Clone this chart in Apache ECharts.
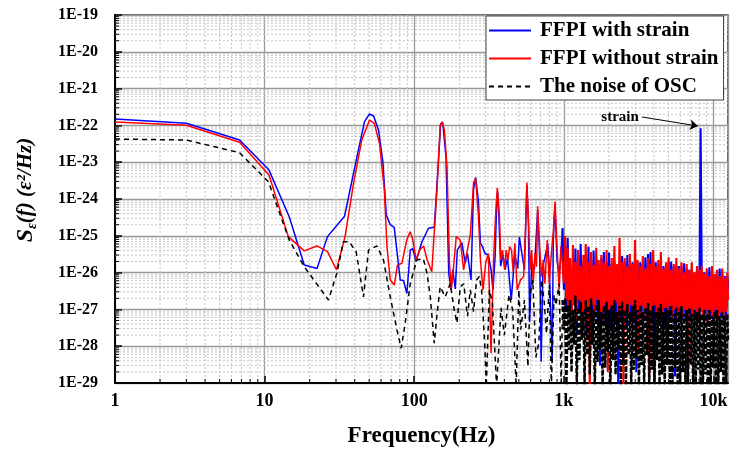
<!DOCTYPE html>
<html>
<head>
<meta charset="utf-8">
<script src="https://cdn.jsdelivr.net/npm/echarts@6/dist/echarts.min.js"></script>
<style>html,body{margin:0;padding:0;background:#fff;}#c{width:730px;height:449px;}</style>
</head>
<body>
<div id="c"></div>
<script>
// ---------- data ----------
const seriesNames = ['FFPI with strain', 'FFPI without strain', 'The noise of OSC'];
const xTickLabels = ['1', '10', '100', '1k', '10k'];   // decades 10^0 .. 10^4

// low-frequency part, [frequency Hz, S(f)]
const blueLow = [
  [1, 1.49e-22], [3.0, 1.14e-22], [6.8, 4.0e-23], [10.7, 6.1e-24], [14.6, 3.3e-25], [18.4, 1.6e-26],
  [22.4, 1.3e-26], [26.3, 9.5e-26], [34.2, 3.4e-25], [41.4, 1.4e-23], [46.5, 1.26e-22], [50.2, 2.04e-22],
  [53.5, 1.8e-22], [57.7, 7.5e-23], [61.7, 1.03e-23], [65.0, 3.7e-25], [69.1, 2.0e-25], [73.5, 1.7e-25],
  [80.6, 6.3e-27], [84.8, 6.1e-27], [89.3, 2.7e-27], [94.0, 4.1e-26], [97.7, 4.5e-26], [102.9, 2.0e-26],
  [112.5, 6.9e-26], [124.6, 1.6e-25], [136, 1.7e-25], [143, 4.0e-24], [150, 1.1e-22], [155, 1.2e-22],
  [163, 1.4e-23], [170, 9.6e-27], [176, 3.6e-27], [181, 1.2e-26], [188, 3.6e-27], [194, 4.1e-26],
  [208, 6.5e-26], [219, 1.8e-26], [227, 3.3e-26], [239.5, 6.3e-27], [249, 1.8e-24], [257, 3.9e-24],
  [268, 9.4e-25], [277, 6.3e-26], [286, 5.0e-26], [297, 3.3e-26], [313, 3.0e-26], [326, 1.2e-26],
  [336, 3.4e-27], [347, 2.7e-26], [355, 6e-25], [361, 1.6e-24], [368, 3e-25], [378, 1.5e-26],
  [392, 3.0e-26], [405, 1.2e-26], [420, 2.5e-26], [445, 1.8e-27], [470, 3.0e-26], [492, 1.3e-26],
  [504, 9.3e-26], [520, 4.1e-26], [545, 1.2e-26], [566, 2.4e-24], [580, 2.0e-25], [590, 4.5e-28],
  [610, 2.0e-26], [635, 1.2e-26], [668, 5e-25], [690, 2.2e-26], [705, 3.8e-29], [725, 1.5e-26],
  [780, 6e-26], [800, 1.2e-26], [835, 3.8e-29], [850, 8e-26], [872, 7e-25], [900, 2.2e-26],
  [930, 8e-27], [955, 3e-26], [980, 1.6e-25]
];
const redLow = [
  [1, 1.24e-22], [3.0, 1.01e-22], [6.8, 3.5e-23], [10.7, 4.5e-24], [14.4, 9.5e-26], [18.4, 3.9e-26],
  [22.4, 5.3e-26], [26.3, 3.7e-26], [30.2, 1.2e-26], [34.5, 9.5e-26], [39.3, 2.7e-24], [44.6, 4.0e-23],
  [50.2, 1.40e-22], [54.1, 1.14e-22], [58.6, 3.2e-23], [63.1, 1.8e-24], [65.7, 5.1e-26], [69.1, 6.3e-27],
  [73.5, 4.6e-27], [77.2, 1.6e-26], [82.7, 1.8e-26], [89.3, 8.0e-26], [94.0, 1.3e-25], [97.7, 8.0e-26],
  [102.9, 2.2e-26], [108.5, 4.1e-26], [115.5, 5.3e-26], [122, 2.2e-26], [131, 1.06e-26], [134.6, 1.18e-26],
  [141.9, 1.8e-24], [149, 9.3e-23], [153.5, 1.26e-22], [159, 7.5e-23], [165.5, 7.5e-24], [172, 1.8e-26],
  [176.7, 3.4e-27], [180.8, 7.9e-27], [190.8, 9.5e-26], [203, 7.7e-26], [213.8, 1.18e-26], [222, 2.7e-26],
  [237, 1.05e-25], [249, 2.7e-24], [257, 3.65e-24], [268, 4e-25], [277, 2.2e-26], [288, 3.4e-27],
  [300, 1.8e-26], [313, 3.3e-26], [326, 6.4e-29], [339, 2.2e-26], [349, 3.3e-25], [359, 2.0e-24],
  [371, 3.3e-25], [379, 2.2e-26], [389, 4.1e-26], [402, 1.2e-26], [412, 4.1e-26], [423, 2.2e-26],
  [434, 5.1e-26], [447, 4.1e-26], [458, 1.06e-26], [470, 6.3e-26], [488, 3.4e-27], [513, 6.3e-27],
  [538, 7.9e-27], [553, 1.2e-25], [566, 2.8e-24], [582, 1.8e-25], [595, 1.2e-26], [609, 4.1e-26],
  [624, 5.0e-27], [640, 3.3e-26], [657, 1.45e-26], [668, 6.3e-25], [690, 4.1e-26], [710, 7.9e-27],
  [728, 2.2e-26], [747, 5e-27], [774, 7.7e-26], [798, 5e-27], [828, 4.1e-26], [849, 1.2e-25],
  [872, 8.5e-25], [902, 4.1e-26], [930, 3.4e-27], [955, 5.1e-26], [980, 1.45e-26]
];
const noiseLow = [
  [1, 4.27e-23], [3.0, 4.0e-23], [6.8, 1.81e-23], [10.6, 2.95e-24], [14.6, 7.7e-26], [18.4, 1.45e-26],
  [26.7, 1.8e-27], [30.4, 9.6e-27], [33.6, 6.9e-26], [36.7, 6.9e-26], [40.9, 3.7e-26], [45.8, 2.2e-27],
  [49.5, 4.1e-26], [56.3, 5.3e-26], [62.3, 2.2e-26], [69.1, 2.2e-27], [76.6, 2.8e-28], [81.8, 8.8e-29],
  [87.1, 4.3e-28], [94, 5.0e-27], [104, 2.2e-26], [115, 2.4e-26], [121.6, 9.6e-27], [128, 2.2e-27],
  [136, 1.2e-28], [143, 9.7e-28], [149, 4.1e-27], [161, 2.2e-27], [174, 5.0e-27], [185, 9.7e-28],
  [193, 4.3e-28], [203, 4.1e-27], [214, 5.0e-27], [227, 6.5e-28], [237, 3.4e-27], [249, 8.7e-28],
  [261, 6.3e-27], [272, 7.9e-27], [282, 3.4e-27], [297, 7.9e-29], [303, 8e-30], [318, 3.4e-27],
  [333, 1.5e-27], [355, 8e-30], [380, 1.1e-27], [400, 2.0e-28], [430, 2.5e-27], [455, 9.6e-28],
  [480, 8e-30], [500, 3.4e-27], [515, 2.8e-28], [545, 1.8e-27], [575, 2.8e-29], [595, 2.5e-27],
  [620, 6.3e-27], [650, 5e-29], [680, 1.2e-28], [710, 6.3e-27], [740, 1.5e-27], [765, 2.2e-28],
  [800, 4.6e-27], [825, 8e-30], [860, 2.5e-27], [885, 1.3e-27], [930, 5.0e-27], [960, 8e-30],
  [980, 1.8e-27]
];

// dense high-frequency part: shared frequencies and the three value lists
const freqHigh = [
  1000,1020,1040,1060,1080,1100,1125,1150,1170,1195,
  1220,1245,1270,1295,1320,1350,1375,1400,1430,1460,
  1490,1520,1550,1580,1610,1645,1680,1710,1745,1780,
  1815,1850,1890,1930,1965,2005,2045,2090,2130,2175,
  2215,2260,2310,2355,2400,2450,2500,2550,2600,2655,
  2710,2760,2820,2875,2930,2990,3050,3110,3175,3240,
  3305,3370,3440,3505,3575,3650,3720,3795,3870,3950,
  4030,4110,4190,4275,4360,4450,4540,4630,4720,4815,
  4910,5010,5110,5215,5320,5425,5535,5645,5760,5875,
  5990,6110,6235,6360,6490,6620,6750,6885,7025,7165,
  7310,7455,7605,7760,7915,8070,8200,8340,8500,8670,
  8840,9020,9200,9385,9570,9760,9955,10150,10350,10560,
  10770,10990,11210,11430,11660,11890,12130,12370,12500
];
const blueHigh = [
  3.4e-27,5.6e-26,9.6e-28,8.7e-26,1.3e-27,1.6e-26,5.2e-28,2.5e-26,1.8e-27,4.5e-26,
  2.0e-28,3.0e-26,9.6e-28,6.0e-26,2.8e-28,1.9e-26,7.0e-28,2.8e-26,1.5e-28,5.0e-26,
  5.2e-28,2.2e-26,1.1e-28,4.0e-26,8.5e-28,2.5e-26,4.5e-28,1.7e-26,3.0e-29,2.5e-26,
  9.6e-28,3.6e-26,3.8e-28,1.9e-26,8.5e-28,3.5e-26,2.8e-28,1.7e-26,7.0e-28,1.9e-26,
  4.5e-28,1.5e-26,8e-30,1.9e-26,5.8e-28,2.8e-26,8.5e-28,1.9e-26,2.8e-28,3.0e-26,
  7.0e-28,1.6e-26,4.5e-28,1.9e-26,8.5e-28,1.6e-26,2.0e-29,1.9e-26,9.6e-28,1.9e-26,
  5.2e-28,1.7e-26,8.5e-28,2.6e-26,5.8e-28,3.2e-26,8.5e-28,3.6e-26,4.5e-28,2.2e-26,
  8e-30,1.9e-26,7.0e-28,1.7e-26,4.5e-28,1.9e-26,9.6e-28,1.5e-26,3.8e-28,1.5e-26,
  8.5e-28,1.9e-26,5.2e-28,2.0e-26,8.5e-28,1.5e-26,1.5e-29,1.5e-26,8.0e-28,1.5e-26,
  4.5e-28,1.5e-26,7.0e-28,1.8e-26,5.2e-28,1.3e-26,8.5e-28,1.2e-26,4.5e-28,1.3e-26,
  7.5e-28,1.0e-26,5.2e-28,1.2e-26,7.0e-28,1.0e-26,8.3e-23,1.2e-26,5.2e-28,1.0e-26,
  7.5e-28,1.0e-26,5.2e-28,1.4e-26,6.6e-28,1.0e-26,4.5e-28,9.2e-27,7.5e-28,9.2e-27,
  5.2e-28,1.3e-26,6.6e-28,9.2e-27,5.2e-28,8.1e-27,6.6e-28,8.1e-27,3.4e-27
];
const redHigh = [
  5.2e-27,9.9e-26,1.8e-27,4.7e-26,7.0e-28,2.5e-26,2.8e-28,5.6e-26,1.3e-27,1.9e-26,
  5.2e-28,4.1e-26,1.8e-27,1.5e-26,1.5e-28,3.0e-26,9.6e-28,6.0e-26,3.8e-28,1.9e-26,
  8e-30,3.6e-26,1.3e-27,1.6e-26,5.8e-28,4.7e-26,1.8e-27,2.2e-26,8.5e-28,3.0e-26,
  3.8e-28,1.9e-26,1.3e-27,4.1e-26,2.0e-29,1.5e-26,1.1e-27,2.5e-26,5.2e-28,5.3e-26,
  1.5e-27,1.7e-26,5.8e-28,8.7e-26,8.5e-28,1.9e-26,8e-30,2.5e-26,1.1e-27,1.5e-26,
  6.6e-28,3.2e-26,1.3e-27,1.7e-26,5.2e-28,7.7e-26,9.6e-28,2.2e-26,7.9e-29,1.5e-26,
  1.2e-27,2.8e-26,5.8e-28,1.3e-26,1.1e-27,2.5e-26,1.5e-29,1.7e-26,8.5e-28,4.1e-26,
  1.3e-27,1.5e-26,5.8e-28,2.2e-26,9.6e-28,3.6e-26,4.5e-28,1.3e-26,1.1e-27,1.9e-26,
  7.0e-28,2.6e-26,1.2e-27,1.2e-26,5.2e-28,1.7e-26,9.6e-28,2.5e-26,6.6e-28,1.3e-26,
  1.1e-27,1.9e-26,5.8e-28,1.0e-26,9.6e-28,1.7e-26,2.0e-29,1.2e-26,1.0e-27,1.9e-26,
  6.6e-28,1.0e-26,8.5e-28,1.5e-26,5.2e-28,1.2e-26,8.5e-28,1.5e-26,5.8e-28,9.2e-27,
  9.6e-28,1.3e-26,4.5e-28,8.1e-27,8.5e-28,1.5e-26,5.8e-28,9.2e-27,9.6e-28,1.2e-26,
  5.2e-28,8.1e-27,8.0e-28,1.3e-26,5.8e-28,7.1e-27,8.5e-28,1.0e-26,1.8e-27
];
const noiseHigh = [
  2.8e-28,2.0e-27,8e-30,1.3e-27,7.9e-29,1.8e-27,2.0e-29,9.6e-28,1.1e-28,2.4e-27,
  8e-30,1.1e-27,4.2e-29,1.6e-27,1.5e-28,8.5e-28,8e-30,1.8e-27,5.8e-29,1.24e-27,
  1.7e-29,2.0e-27,1.1e-28,9.6e-28,8e-30,1.4e-27,3.7e-29,1.8e-27,7.9e-29,8.5e-28,
  8e-30,1.24e-27,2.6e-29,1.6e-27,7.0e-29,9.6e-28,8e-30,1.3e-27,4.2e-29,1.8e-27,
  1.7e-29,8.5e-28,7.9e-29,1.24e-27,8e-30,1.6e-27,3.1e-29,9.6e-28,8e-30,1.4e-27,
  5.8e-29,8.5e-28,8e-30,1.24e-27,2.3e-29,1.8e-27,4.8e-29,9.6e-28,8e-30,1.3e-27,
  3.1e-29,8.5e-28,8e-30,1.1e-27,5.8e-29,1.5e-27,8e-30,9.6e-28,2.3e-29,1.24e-27,
  8e-30,8.5e-28,4.2e-29,1.1e-27,8e-30,1.4e-27,1.7e-29,8.5e-28,8e-30,1.1e-27,
  3.1e-29,9.6e-28,8e-30,1.24e-27,8e-30,7.5e-28,2.6e-29,1.1e-27,8e-30,8.5e-28,
  8e-30,1.24e-27,2.0e-29,7.5e-28,8e-30,9.6e-28,8e-30,1.1e-27,3.1e-29,7.5e-28,
  8e-30,9.6e-28,8e-30,8.5e-28,2.3e-29,1.1e-27,8e-30,7.5e-28,8e-30,9.6e-28,
  1.7e-29,7.5e-28,8e-30,9.6e-28,8e-30,6.6e-28,2.6e-29,8.5e-28,8e-30,9.6e-28,
  8e-30,6.6e-28,2.0e-29,8.5e-28,8e-30,6.6e-28,8e-30,7.5e-28,1.5e-28
];

// annotation ("strain" label and arrow), in data units [Hz, S]
const strainLabel = [2374, 1.65e-22];
const strainArrow = [[3330, 1.69e-22], [7870, 9.6e-23]];

// ---------- chart (log-log: the value axes carry log10 of the data) ----------
const X_MIN = 1, X_MAX = 12500, Y_MIN = 1e-29, Y_MAX = 1e-19;
const FONT = '"Liberation Serif", "Times New Roman", serif';
const lg = Math.log10;
const toLog = p => [lg(p[0]), lg(p[1])];

// low part (thin lines) and dense part (drawn with the same name, continuing from the last low point)
const lowPart = low => low.map(toLog);
const highPart = (low, vals) => [low[low.length - 1]].concat(freqHigh.map((f, i) => [f, vals[i]])).map(toLog);

// minor (2..9) positions of the log axes
const xMinor = [], yMinor = [];
for (let d = 0; d < 4; d++) for (let m = 2; m <= 9; m++) xMinor.push([d + lg(m), lg(Y_MIN)]);
for (let e = -29; e < -19; e++) for (let m = 2; m <= 9; m++) yMinor.push([lg(X_MIN), e + lg(m)]);

const chart = echarts.init(document.getElementById('c'), null, {renderer: 'canvas'});

const BLUE = '#0000ff', RED = '#ff0000', BLACK = '#000000';
const option = {
  animation: false,
  backgroundColor: '#fff',
  grid: {left: 115, right: 2, top: 15, bottom: 66, containLabel: false, outerBoundsMode: 'none',
    show: true, borderColor: '#333', borderWidth: 1.5, backgroundColor: 'transparent'},
  legend: {
    data: seriesNames,
    orient: 'vertical',
    left: 486, top: 16,
    padding: [4, 5, 3, 2],
    itemGap: 7,
    itemWidth: 42, itemHeight: 14,
    itemStyle: {opacity: 0},
    backgroundColor: '#fff',
    borderColor: '#444', borderWidth: 1,
    textStyle: {fontFamily: FONT, fontSize: 21, fontWeight: 'bold', color: '#000', padding: [0, 0, 0, 4]}
  },
  xAxis: {
    type: 'value', min: lg(X_MIN), max: lg(X_MAX), interval: 1,
    name: 'Frequency(Hz)', nameLocation: 'middle', nameGap: 42,
    nameTextStyle: {fontFamily: FONT, fontSize: 23, fontWeight: 'bold', color: '#000'},
    axisLine: {show: true, onZero: false, lineStyle: {color: '#000', width: 2}},
    axisTick: {show: true, inside: true, length: 7, lineStyle: {color: '#000', width: 1.5}},
    axisLabel: {fontFamily: FONT, fontSize: 18, fontWeight: 'bold', color: '#000', margin: 9, showMaxLabel: false,
      formatter: v => (Math.abs(v - Math.round(v)) < 1e-6 && xTickLabels[Math.round(v)] !== undefined) ? xTickLabels[Math.round(v)] : ''},
    splitLine: {show: true, lineStyle: {color: '#9a9a9a', width: 1.3}}
  },
  yAxis: {
    type: 'value', min: lg(Y_MIN), max: lg(Y_MAX), interval: 1,
    name: '{s|S}{e|ε}{t|(f) (ε²/Hz)}', nameLocation: 'middle', nameGap: 76, nameRotate: 90,
    nameTextStyle: {
      padding: [0, 0, 0, 18],
      rich: {
        s: {fontFamily: FONT, fontSize: 24, fontWeight: 'bold', fontStyle: 'italic', color: '#000', lineHeight: 26},
        e: {fontFamily: FONT, fontSize: 14, fontWeight: 'bold', fontStyle: 'italic', color: '#000', verticalAlign: 'bottom', lineHeight: 14},
        t: {fontFamily: FONT, fontSize: 21, fontWeight: 'bold', fontStyle: 'italic', color: '#000', lineHeight: 26}
      }
    },
    axisLine: {show: true, onZero: false, lineStyle: {color: '#000', width: 2}},
    axisTick: {show: true, inside: true, length: 7, lineStyle: {color: '#000', width: 1.5}},
    axisLabel: {fontFamily: FONT, fontSize: 16, fontWeight: 'bold', color: '#000', margin: 17,
      formatter: v => '1E' + Math.round(v)},
    splitLine: {show: true, lineStyle: {color: '#9a9a9a', width: 1.3}}
  },
  series: [
    {
      type: 'custom', name: 'xminor', coordinateSystem: 'cartesian2d', silent: true, z: 1,
      data: xMinor,
      renderItem: (params, api) => {
        const b = api.coord([api.value(0), lg(Y_MIN)]);
        const t = api.coord([api.value(0), lg(Y_MAX)]);
        return {type: 'group', children: [
          {type: 'line', shape: {x1: b[0], y1: t[1], x2: b[0], y2: b[1]}, style: {stroke: '#c4c4c4', lineWidth: 1, lineDash: [2, 2]}},
          {type: 'line', shape: {x1: b[0], y1: b[1], x2: b[0], y2: b[1] - 4}, style: {stroke: '#000', lineWidth: 1}}
        ]};
      }
    },
    {
      type: 'custom', name: 'yminor', coordinateSystem: 'cartesian2d', silent: true, z: 1,
      data: yMinor,
      renderItem: (params, api) => {
        const l = api.coord([lg(X_MIN), api.value(1)]);
        const r = api.coord([lg(X_MAX), api.value(1)]);
        return {type: 'group', children: [
          {type: 'line', shape: {x1: l[0], y1: l[1], x2: r[0], y2: l[1]}, style: {stroke: '#c4c4c4', lineWidth: 1, lineDash: [2, 2]}},
          {type: 'line', shape: {x1: l[0], y1: l[1], x2: l[0] + 4, y2: l[1]}, style: {stroke: '#000', lineWidth: 1}}
        ]};
      }
    },
    {
      type: 'line', name: seriesNames[0], data: lowPart(blueLow), showSymbol: false, symbol: 'none', z: 3,
      lineStyle: {color: BLUE, width: 1.5}, itemStyle: {color: BLUE}, clip: true,
      markLine: {
        silent: true, symbol: ['none', 'arrow'], symbolSize: 8,
        label: {show: false},
        lineStyle: {color: '#000', width: 1, type: 'solid'},
        data: [[{coord: toLog(strainArrow[0])}, {coord: toLog(strainArrow[1])}]]
      },
      markPoint: {
        silent: true,
        data: [{coord: toLog(strainLabel), symbol: 'rect', symbolSize: 1, itemStyle: {color: 'rgba(0,0,0,0)'},
          label: {show: true, position: 'inside', formatter: 'strain', fontFamily: FONT, fontSize: 15, fontWeight: 'bold', color: '#000'}}]
      }
    },
    {
      type: 'line', name: seriesNames[1], data: lowPart(redLow), showSymbol: false, symbol: 'none', z: 4,
      lineStyle: {color: RED, width: 1.5}, itemStyle: {color: RED}, clip: true
    },
    {
      type: 'line', name: seriesNames[2], data: lowPart(noiseLow), showSymbol: false, symbol: 'none', z: 5,
      lineStyle: {color: BLACK, width: 1.5, type: [5, 4]}, itemStyle: {color: BLACK}, clip: true
    },
    {
      type: 'line', name: seriesNames[0], data: highPart(blueLow, blueHigh), showSymbol: false, symbol: 'none', z: 3,
      lineStyle: {color: BLUE, width: 2.1}, itemStyle: {color: BLUE}, clip: true
    },
    {
      type: 'line', name: seriesNames[1], data: highPart(redLow, redHigh), showSymbol: false, symbol: 'none', z: 4,
      lineStyle: {color: RED, width: 2.1}, itemStyle: {color: RED}, clip: true
    },
    {
      type: 'line', name: seriesNames[2], data: highPart(noiseLow, noiseHigh), showSymbol: false, symbol: 'none', z: 5,
      lineStyle: {color: BLACK, width: 2.4, type: [5, 2]}, itemStyle: {color: BLACK}, clip: true
    }
  ]
};
chart.setOption(option);
if (freqHigh.length !== blueHigh.length || freqHigh.length !== redHigh.length || freqHigh.length !== noiseHigh.length) {
  console.error('length mismatch', freqHigh.length, blueHigh.length, redHigh.length, noiseHigh.length);
}
</script>
</body>
</html>
